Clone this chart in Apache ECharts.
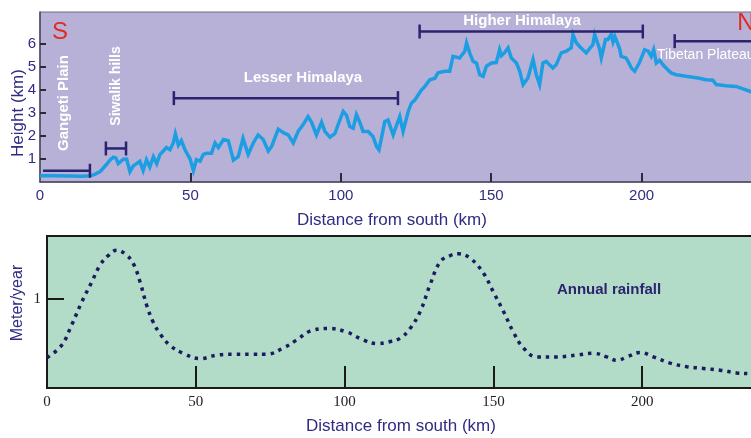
<!DOCTYPE html>
<html><head><meta charset="utf-8">
<script src="https://cdn.jsdelivr.net/npm/echarts@6/dist/echarts.min.js"></script>
<style>html,body{margin:0;padding:0;background:#fff}#c{width:751px;height:438px}</style>
</head><body><div id="c"></div>
<script>
// Elevation profile (km from south, height km)
const elevKm = [0,5,10,14,16.6,18,20,22,23.3,24.4,25.2,26,27.7,28.8,29.9,31,32.1,33.2,34.3,35.4,36.5,37.7,38.8,39.9,41,42,43.2,44.3,45,46,47,48.2,49.9,51,52,53.2,54.3,55.4,57,58.2,59.3,61,62.6,64.3,65.9,67.5,69.2,70.9,72.5,74.2,75.9,77,79.2,80.9,82.5,84.2,85.8,87.5,89.1,90.3,91.9,93.6,94.7,96.4,98,99.1,100.8,101.9,103,104.1,105.2,106.3,107.4,109.1,110.7,111.9,112.7,113.5,114.6,115.7,117.4,119.6,120.7,122.4,123.5,124.5,126.8,127.9,129.6,131.3,132.3,134.5,136.2,137.3,139.5,141.2,141.8,142.9,144,145.1,146.2,147.3,148.4,150.1,151.7,152.8,153.4,154.5,155.6,156.7,158.4,159.5,160.6,162.2,163.9,165,166.1,167.2,168.3,169.4,170.5,171.6,173.3,175,176.6,177.2,178.3,179.4,181.6,183.8,184.4,186,186.6,188,188.8,189.9,190.5,191.1,192.7,193.2,194.8,195.5,196.6,197.7,199.3,201,202.2,203.2,204,204.9,206,207.1,208.7,209.8,211.5,214.8,218.7,221.5,223.7,224.8,228.1,231.4,233.7,236.2,238];
const elevH = [0.27,0.27,0.26,0.25,0.27,0.32,0.45,0.75,0.96,1.08,1.05,0.8,0.99,1.0,0.45,0.7,0.8,0.9,0.5,0.97,0.65,1.1,0.8,1.2,1.35,1.5,1.4,1.7,2.1,1.6,1.8,1.4,1.0,0.5,0.97,0.9,1.2,1.25,1.25,1.7,1.5,1.85,1.8,0.95,1.1,1.9,1.2,1.7,2.05,1.85,1.35,1.55,2.3,2.15,2.05,1.7,2.2,2.5,2.85,2.6,2.05,2.6,2.2,1.95,2.1,2.5,3.07,2.9,2.41,2.34,2.93,2.6,2.2,2.2,1.98,1.54,1.4,1.9,2.63,2.7,2.05,2.85,2.2,3.07,3.44,3.55,4.0,4.15,4.45,4.52,4.75,4.82,4.82,5.47,5.4,5.69,6.06,5.6,5.25,5.18,4.67,4.6,5.04,5.18,5.2,5.76,5.5,5.64,5.84,5.4,5.18,4.82,4.24,4.53,5.33,4.67,4.24,5.18,5.25,5.1,4.96,5.1,5.62,5.7,5.84,6.42,6.06,5.9,5.62,5.98,6.42,5.8,5.4,6.2,6.2,6.42,6.1,6.34,5.8,5.47,5.4,5.25,4.96,4.82,5.2,5.76,5.7,5.47,5.76,5.18,5.3,5.1,4.89,4.75,4.67,4.6,4.53,4.45,4.43,4.24,4.19,4.16,4.05,3.94,3.85];

// Annual rainfall (km from south, metre/year)
const rainKm = [0,4.9,8.3,11.7,15,17.8,20.6,23.4,26.2,29,31.3,33.5,35.7,38,41.3,45.8,51.4,57,62.6,68.2,73.8,79.4,83.9,88.4,94.6,100.7,106.3,110.8,115,118.7,122,125.4,128.7,132.1,135.5,138.3,142.2,146.7,150,153.4,156.7,160.1,164.6,171.3,178,183.6,188.1,191.5,194.9,199.3,203.8,209.4,215,220.6,226.2,231.8,236.3,240];
const rainV = [0.34,0.48,0.71,0.97,1.19,1.38,1.49,1.55,1.51,1.4,1.19,0.93,0.74,0.61,0.48,0.39,0.33,0.37,0.38,0.38,0.38,0.45,0.54,0.64,0.67,0.63,0.54,0.5,0.52,0.56,0.67,0.86,1.16,1.42,1.49,1.51,1.46,1.29,1.08,0.86,0.63,0.45,0.35,0.35,0.37,0.39,0.35,0.31,0.35,0.4,0.35,0.28,0.24,0.22,0.2,0.17,0.16,0.15];

// Physiographic zones (range in km, bar height in km)
const zoneNames = ['Gangeti Plain','Siwalik hills','Lesser Himalaya','Higher Himalaya','Tibetan Plateau'];
const zoneStart = [1, 21.9, 44.5, 126.2, 211];
const zoneEnd = [16.6, 28.6, 119, 200.4, 262];
const zoneLevel = [0.49, 1.46, 3.65, 6.55, 6.13];
const zoneCapL = [0, 1, 1, 1, 1];
const zoneCapR = [1, 1, 1, 1, 0];

const topXTicks = [50, 100, 150, 200];
const topYTicks = [1, 2, 3, 4, 5, 6];
const botYTicks = [1];

const navy = '#2b2270';
const textBlue = '#2f2c82';
const sans = 'Liberation Sans, Arial, sans-serif';
const serif = 'Liberation Serif, Times New Roman, serif';

const chart = echarts.init(document.getElementById('c'), null, {renderer: 'canvas'});
const zoneData = zoneStart.map((s, i) => [s, zoneEnd[i], zoneLevel[i], zoneCapL[i], zoneCapR[i]]);

chart.setOption({
  animation: false,
  grid: [
    {left: 40, top: 12, width: 752, height: 170, outerBoundsMode: 'none', containLabel: false, show: true, backgroundColor: '#b8b1d7', borderColor: '#6d6a80', borderWidth: 1},
    {left: 47, top: 236, width: 744, height: 152, outerBoundsMode: 'none', containLabel: false, show: true, backgroundColor: '#b3dcc8', borderColor: '#1a1a1a', borderWidth: 2}
  ],
  xAxis: [
    {gridIndex: 0, type: 'value', min: 0, max: 250, interval: 50,
     axisLine: {show: true, onZero: false, lineStyle: {color: '#4a4860', width: 1.5}},
     axisTick: {show: true, inside: true, length: 9, customValues: topXTicks, lineStyle: {color: '#2a2a3a', width: 2}},
     axisLabel: {color: textBlue, fontFamily: sans, fontSize: 15, margin: 6},
     splitLine: {show: false}},
    {gridIndex: 1, type: 'value', min: 0, max: 250, interval: 50,
     axisLine: {show: true, onZero: false, lineStyle: {color: '#1a1a1a', width: 2}},
     axisTick: {show: true, inside: true, length: 22, customValues: topXTicks, lineStyle: {color: '#1a1a1a', width: 2}},
     axisLabel: {color: '#222', fontFamily: serif, fontSize: 15, margin: 7},
     splitLine: {show: false}}
  ],
  yAxis: [
    {gridIndex: 0, type: 'value', min: 0, max: 7.4,
     axisLine: {show: true, onZero: false, lineStyle: {color: '#4a4860', width: 1.5}},
     axisTick: {show: true, inside: true, length: 6, customValues: topYTicks, lineStyle: {color: '#2a2a3a', width: 2}},
     axisLabel: {color: textBlue, fontFamily: sans, fontSize: 15, margin: 4, customValues: topYTicks},
     splitLine: {show: false}},
    {gridIndex: 1, type: 'value', min: 0, max: 1.71,
     axisLine: {show: true, onZero: false, lineStyle: {color: '#1a1a1a', width: 2}},
     axisTick: {show: true, inside: true, length: 17, customValues: botYTicks, lineStyle: {color: '#1a1a1a', width: 2}},
     axisLabel: {color: '#222', fontFamily: serif, fontSize: 15, margin: 6, customValues: botYTicks},
     splitLine: {show: false}}
  ],
  series: [
    {type: 'line', xAxisIndex: 0, yAxisIndex: 0, showSymbol: false, symbol: 'none',
     data: elevKm.map((k, i) => [k, elevH[i]]),
     lineStyle: {color: '#1d9ee3', width: 3.5, join: 'miter'}, z: 3},
    {type: 'custom', xAxisIndex: 0, yAxisIndex: 0, data: zoneData, clip: true, z: 4,
     encode: {x: [0, 1], y: 2},
     renderItem: function (params, api) {
       const a = api.coord([api.value(0), api.value(2)]);
       const b = api.coord([api.value(1), api.value(2)]);
       const st = {stroke: navy, lineWidth: 2.5};
       const ch = [{type: 'line', shape: {x1: a[0], y1: a[1], x2: b[0], y2: b[1]}, style: st}];
       if (api.value(3)) ch.push({type: 'line', shape: {x1: a[0], y1: a[1] - 7, x2: a[0], y2: a[1] + 7}, style: st});
       if (api.value(4)) ch.push({type: 'line', shape: {x1: b[0], y1: b[1] - 7, x2: b[0], y2: b[1] + 7}, style: st});
       return {type: 'group', children: ch};
     }},
    {type: 'line', xAxisIndex: 1, yAxisIndex: 1, showSymbol: false, symbol: 'none', smooth: 0.4,
     data: rainKm.map((k, i) => [k, rainV[i]]),
     lineStyle: {color: '#1c1a60', width: 3.5, type: [3.5, 5]}, z: 3}
  ],
  graphic: [
    {type: 'text', x: 18, y: 113, rotation: Math.PI / 2, style: {text: 'Height (km)', fill: textBlue, font: '17px ' + sans, textAlign: 'center', textVerticalAlign: 'middle'}},
    {type: 'text', x: 392, y: 220, style: {text: 'Distance from south (km)', fill: textBlue, font: '17px ' + sans, textAlign: 'center', textVerticalAlign: 'middle'}},
    {type: 'text', x: 18, y: 303, rotation: Math.PI / 2, style: {text: 'Meter/year', fill: textBlue, font: '16px ' + sans, textAlign: 'center', textVerticalAlign: 'middle'}},
    {type: 'text', x: 401, y: 426, style: {text: 'Distance from south (km)', fill: textBlue, font: '17px ' + sans, textAlign: 'center', textVerticalAlign: 'middle'}},
    {type: 'text', x: 60, y: 32, style: {text: 'S', fill: '#e02a22', font: '24px ' + sans, textAlign: 'center', textVerticalAlign: 'middle'}},
    {type: 'text', x: 746, y: 23, style: {text: 'N', fill: '#e02a22', font: '24px ' + sans, textAlign: 'center', textVerticalAlign: 'middle'}},
    {type: 'text', x: 64, y: 103, rotation: Math.PI / 2, style: {text: zoneNames[0], fill: '#fff', font: 'bold 15px ' + sans, textAlign: 'center', textVerticalAlign: 'middle'}},
    {type: 'text', x: 116, y: 86, rotation: Math.PI / 2, style: {text: zoneNames[1], fill: '#fff', font: 'bold 14px ' + sans, textAlign: 'center', textVerticalAlign: 'middle'}},
    {type: 'text', x: 303, y: 78, style: {text: zoneNames[2], fill: '#fff', font: 'bold 15px ' + sans, textAlign: 'center', textVerticalAlign: 'middle'}},
    {type: 'text', x: 522, y: 21, style: {text: zoneNames[3], fill: '#fff', font: 'bold 15px ' + sans, textAlign: 'center', textVerticalAlign: 'middle'}},
    {type: 'text', x: 657, y: 55, style: {text: zoneNames[4], fill: '#fff', font: '14px ' + sans, textAlign: 'left', textVerticalAlign: 'middle'}},
    {type: 'text', x: 609, y: 290, style: {text: 'Annual rainfall', fill: '#2b2270', font: 'bold 15px ' + sans, textAlign: 'center', textVerticalAlign: 'middle'}}
  ]
});
</script></body></html>
